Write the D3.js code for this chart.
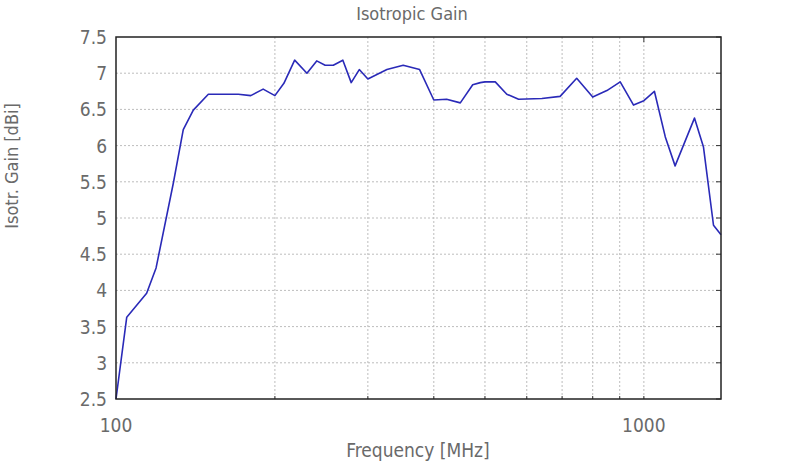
<!DOCTYPE html>
<html><head><meta charset="utf-8">
<script src="https://cdn.jsdelivr.net/npm/d3@7"></script>
<style>
body{margin:0;background:#fff;}
text{font-family:"Liberation Sans Narrow","DejaVu Sans Condensed","Roboto Condensed",sans-serif;fill:#6a6a6a;}
</style></head><body>
<svg id="c" width="800" height="465"></svg>
<script>
const freq = [100,104.8,114.3,119.1,128.4,134.1,140.1,149.6,170.5,180,190,200,208,218,230,240,249,258,269,279,289,300,326,350,376,400,423,449,474,490,500,523,550,579,641,694,746,800,851,902,956,1000,1047,1098,1146,1247,1297,1355,1400];
const gain = [2.5,3.63,3.96,4.31,5.48,6.22,6.49,6.71,6.71,6.69,6.78,6.69,6.86,7.18,7.0,7.17,7.11,7.11,7.18,6.87,7.05,6.92,7.05,7.11,7.05,6.63,6.64,6.59,6.84,6.87,6.88,6.88,6.71,6.64,6.65,6.68,6.93,6.67,6.76,6.88,6.56,6.62,6.75,6.12,5.72,6.38,5.98,4.90,4.77];
const yTicks = [2.5,3,3.5,4,4.5,5,5.5,6,6.5,7,7.5];
const xGrid = [200,300,400,500,600,700,800,900,1000];
const xLabels = [100,1000];
const title = "Isotropic Gain", xTitle = "Frequency [MHz]", yTitle = "Isotr. Gain [dBi]";

const svg = d3.select("#c");
const L=116,R=721,T=37,B=399;
const x = d3.scaleLog().domain([100,1400]).range([L,R]);
const y = d3.scaleLinear().domain([2.5,7.5]).range([B,T]);

// grid
svg.append("g").selectAll("line").data(xGrid).join("line")
 .attr("x1",d=>x(d)).attr("x2",d=>x(d)).attr("y1",T).attr("y2",B)
 .attr("stroke","#bdbdbd").attr("stroke-dasharray","2,2").attr("stroke-width",1);
svg.append("g").selectAll("line").data(yTicks.slice(1,-1)).join("line")
 .attr("x1",L).attr("x2",R).attr("y1",d=>y(d)).attr("y2",d=>y(d))
 .attr("stroke","#bdbdbd").attr("stroke-dasharray","2,2").attr("stroke-width",1);

// ticks inside
svg.append("g").selectAll("line").data(xGrid).join("line")
 .attr("x1",d=>x(d)).attr("x2",d=>x(d)).attr("y1",B).attr("y2",B-3)
 .attr("stroke","#333").attr("stroke-width",1);
svg.append("g").selectAll("line").data([1000]).join("line")
 .attr("x1",d=>x(d)).attr("x2",d=>x(d)).attr("y1",T).attr("y2",T+5)
 .attr("stroke","#333").attr("stroke-width",1);
svg.append("g").selectAll("line").data(yTicks).join("line")
 .attr("x1",R).attr("x2",R-5).attr("y1",d=>y(d)).attr("y2",d=>y(d))
 .attr("stroke","#333").attr("stroke-width",1);

// line
svg.append("path").datum(freq.map((f,i)=>[f,gain[i]]))
 .attr("fill","none").attr("stroke","#2a2ab8").attr("stroke-width",1.6)
 .attr("stroke-linejoin","round")
 .attr("d",d3.line().x(d=>x(d[0])).y(d=>y(d[1])));

// frame
svg.append("rect").attr("x",L).attr("y",T).attr("width",R-L).attr("height",B-T)
 .attr("fill","none").attr("stroke","#222").attr("stroke-width",1.5);

// y labels
svg.append("g").selectAll("text").data(yTicks).join("text")
 .attr("x",107).attr("y",d=>y(d)+7).attr("text-anchor","end")
 .attr("font-size",19).text(d=>d);
// x labels
svg.append("g").selectAll("text").data(xLabels).join("text")
 .attr("x",d=>x(d)).attr("y",432).attr("text-anchor","middle")
 .attr("font-size",19).text(d=>d);

svg.append("text").attr("x",412).attr("y",20).attr("text-anchor","middle")
 .attr("font-size",18).text(title);
svg.append("text").attr("x",418).attr("y",457).attr("text-anchor","middle")
 .attr("font-size",19).text(xTitle);
svg.append("text").attr("transform","translate(18,166) rotate(-90)")
 .attr("text-anchor","middle").attr("font-size",18).text(yTitle);
</script></body></html>
